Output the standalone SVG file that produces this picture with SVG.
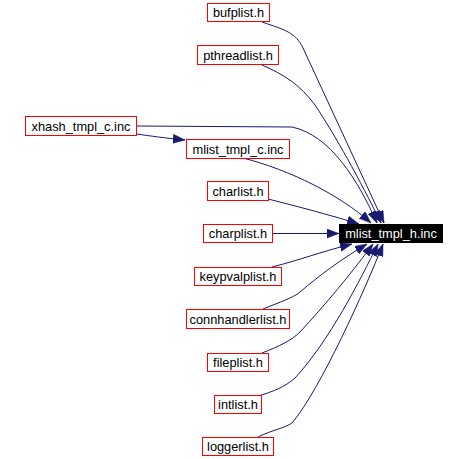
<svg xmlns="http://www.w3.org/2000/svg" width="468" height="459" viewBox="0 0 468 459">
<style>
.n rect{fill:#fff;stroke:#f00;stroke-width:1}
.n text{font-family:"Liberation Sans",Arial,sans-serif;font-size:12.8px;fill:#000;text-anchor:middle}
#root rect{fill:#000;stroke:#000}
#root text{fill:#fff}
.e path{fill:none;stroke:#191970;stroke-width:1;marker-end:url(#ah)}
</style>
<defs>
<marker id="ah" markerUnits="userSpaceOnUse" markerWidth="14" markerHeight="10" refX="12" refY="4.5" orient="auto">
<path d="M0,0 L12,4.5 L0,9 z" fill="#191970" stroke="#191970" stroke-width="0.5"/>
</marker>
</defs>
<rect width="468" height="459" fill="#fff"/>
<g id="edges" class="e">
<path d="M262,22 C285,30 295,32 303,48 L384,223"/>
<path d="M262,65 C285,75 300,85 315,105 C335,135 360,180 381,223"/>
<path d="M137,126 L292,127 C330,135 358,180 377,223"/>
<path d="M137,134 C150,136 165,138 185,140"/>
<path d="M243,158 C290,170 340,195 371,223"/>
<path d="M268,199 C300,207 330,215 359,224"/>
<path d="M273,233.5 L339,233.5"/>
<path d="M272,267 C300,260 320,252 352,244"/>
<path d="M263,309 C280,302 293,298 300,292 C320,275 340,260 367,244"/>
<path d="M262,353 C280,346 292,340 300,332 C325,305 350,275 373,244"/>
<path d="M258,396 C272,392 285,387 295,378 C330,340 360,280 378,244"/>
<path d="M258,437 C272,430 285,428 292,423 C320,390 365,290 383,244"/>
</g>
<g id="bufplist" class="n"><rect x="207.5" y="3.5" width="62" height="18"/><text x="238.5" y="17">bufplist.h</text></g>
<g id="pthreadlist" class="n"><rect x="197.5" y="45.5" width="81" height="19"/><text x="238" y="59.5">pthreadlist.h</text></g>
<g id="xhash_tmpl_c" class="n"><rect x="25.5" y="116.5" width="111" height="19"/><text x="81" y="130.5">xhash_tmpl_c.inc</text></g>
<g id="mlist_tmpl_c" class="n"><rect x="186.5" y="139.5" width="103" height="19"/><text x="238" y="153.5">mlist_tmpl_c.inc</text></g>
<g id="charlist" class="n"><rect x="207.5" y="181.5" width="61" height="19"/><text x="238" y="195.5">charlist.h</text></g>
<g id="charplist" class="n"><rect x="203.5" y="224.5" width="69" height="18"/><text x="238" y="238">charplist.h</text></g>
<g id="root" class="n"><rect x="339.5" y="224.5" width="103" height="18"/><text x="391" y="238">mlist_tmpl_h.inc</text></g>
<g id="keypvalplist" class="n"><rect x="194.5" y="267.5" width="87" height="18"/><text x="238" y="281">keypvalplist.h</text></g>
<g id="connhandlerlist" class="n"><rect x="186.5" y="309.5" width="103" height="19"/><text x="238" y="323.5">connhandlerlist.h</text></g>
<g id="fileplist" class="n"><rect x="207.5" y="353.5" width="61" height="18"/><text x="238" y="367">fileplist.h</text></g>
<g id="intlist" class="n"><rect x="214.5" y="395.5" width="47" height="18"/><text x="238" y="409">intlist.h</text></g>
<g id="loggerlist" class="n"><rect x="202.5" y="437.5" width="71" height="18"/><text x="238" y="451">loggerlist.h</text></g>
</svg>
